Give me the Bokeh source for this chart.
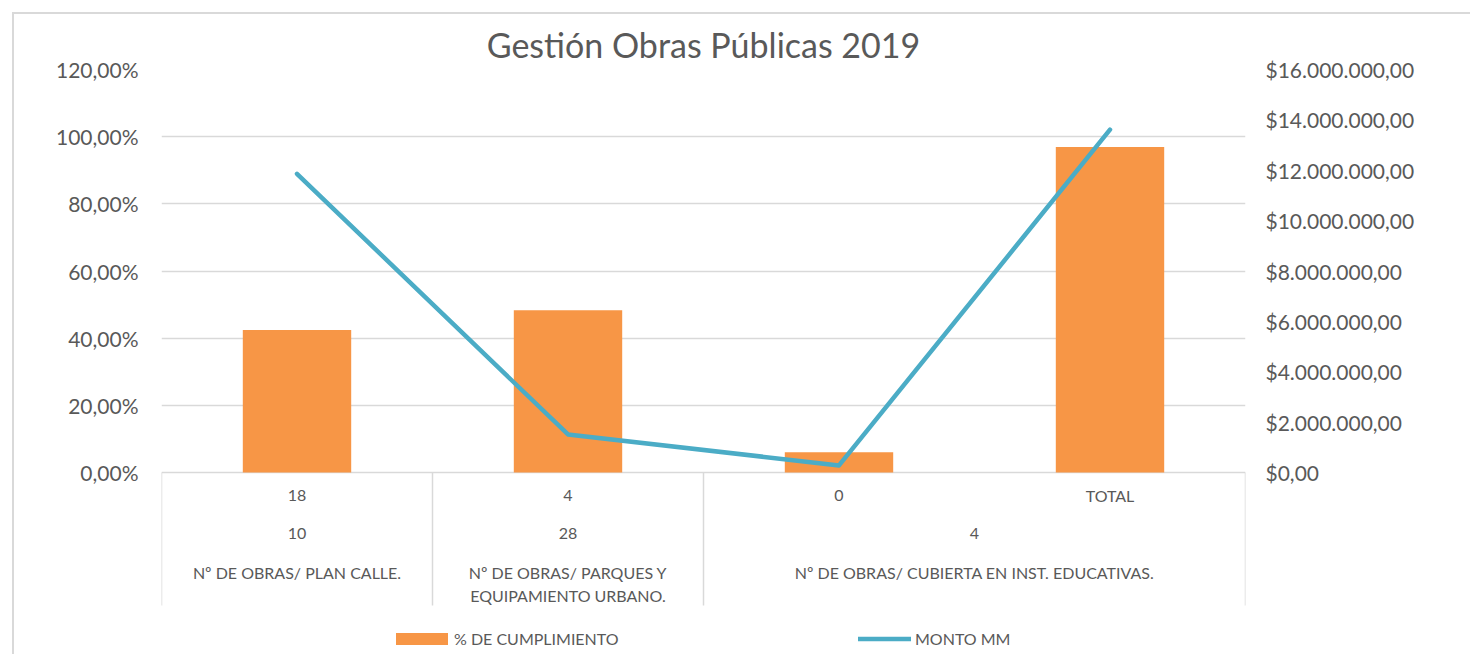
from bokeh.plotting import figure
from bokeh.models import (Range1d, LinearAxis, FixedTicker, CustomJSTickFormatter, Grid,
                          Legend, LegendItem, InlineStyleSheet)
from bokeh.core.properties import value
from bokeh.embed import file_html
from bokeh.resources import INLINE

# ---------------- data ----------------
title_text = "Gestión Obras Públicas 2019"
level1 = ["18", "4", "0", "TOTAL"]
level2 = ["10", "28", "4", "4"]
level3 = ["Nº DE OBRAS/ PLAN CALLE.",
          "Nº DE OBRAS/ PARQUES Y\nEQUIPAMIENTO URBANO.",
          "Nº DE OBRAS/ CUBIERTA EN INST. EDUCATIVAS.",
          "Nº DE OBRAS/ CUBIERTA EN INST. EDUCATIVAS."]
cumplimiento = [42.4, 48.3, 6.0, 96.9]          # % DE CUMPLIMIENTO
monto = [11860000, 1510000, 280000, 13610000]    # MONTO MM
pct_ticks = [0, 20, 40, 60, 80, 100, 120]
monto_ticks = [0, 2000000, 4000000, 6000000, 8000000, 10000000, 12000000, 14000000, 16000000]
series_names = ["% DE CUMPLIMIENTO", "MONTO MM"]

# ---------------- layout constants ----------------
W, H = 1470, 654
B_LEFT, B_RIGHT, B_TOP = 161, 225, 69
FRAME_H = H - B_TOP
PX_PER_UNIT = 403 / 120.0
Y_MIN = 120 - FRAME_H / PX_PER_UNIT
M_SCALE = 16000000 / 120.0
TABLE_BOTTOM = -133 / PX_PER_UNIT

TEXT = "#595959"
GRID = "#d9d9d9"
ORANGE = "#F79646"
TEAL = "#4BACC6"
FONT = "Lato"

n = len(level1)
xs = [i + 0.5 for i in range(n)]

p = figure(width=W, height=H, output_backend="svg", toolbar_location=None,
           x_range=Range1d(0, n), y_range=Range1d(Y_MIN, 120),
           x_axis_location=None, y_axis_location=None,
           min_border_left=B_LEFT, min_border_right=B_RIGHT,
           min_border_top=B_TOP, min_border_bottom=0,
           background_fill_color="white", border_fill_color="white")
p.outline_line_color = None
p.extra_y_ranges = {"monto": Range1d(Y_MIN * M_SCALE, 120 * M_SCALE)}
for g in p.grid:
    g.visible = False

# outer chart border (left and top edges visible in the window)
p.stylesheets = [InlineStyleSheet(css=""":host { position: relative; }
:host::after { content: ''; position: absolute; left: 12px; top: 12px; right: 0; bottom: 0;
  border-left: 2px solid #d9d9d9; border-top: 2px solid #d9d9d9; pointer-events: none; z-index: 10; }""")]

# title
p.title.text = title_text
p.title.align = "center"
p.title.text_font = FONT
p.title.text_font_size = "34px"
p.title.text_font_style = "normal"
p.title.text_color = TEXT

# axes
left_ax = LinearAxis(ticker=FixedTicker(ticks=pct_ticks),
                     formatter=CustomJSTickFormatter(code="return tick.toFixed(2).replace('.', ',') + '%';"))
right_ax = LinearAxis(y_range_name="monto", ticker=FixedTicker(ticks=monto_ticks),
                      formatter=CustomJSTickFormatter(code="""
const s = Math.round(tick).toString().replace(/\\B(?=(\\d{3})+(?!\\d))/g, '.');
return '$' + s + ',00';"""))
for ax, st in ((left_ax, 17), (right_ax, 14)):
    ax.axis_line_color = None
    ax.major_tick_line_color = None
    ax.minor_tick_line_color = None
    ax.major_label_standoff = st
    ax.major_label_text_font = FONT
    ax.major_label_text_font_size = "21px"
    ax.major_label_text_color = TEXT
p.add_layout(left_ax, "left")
p.add_layout(right_ax, "right")

# horizontal gridlines at the percentage ticks
p.add_layout(Grid(dimension=1, ticker=FixedTicker(ticks=pct_ticks),
                  grid_line_color=GRID, grid_line_width=1.5))

# category table: vertical separators where groups change
bounds = [0] + [i for i in range(1, n)
                if (level2[i], level3[i]) != (level2[i - 1], level3[i - 1])] + [n]
p.segment(x0=bounds, y0=[0] * len(bounds), x1=bounds, y1=[TABLE_BOTTOM] * len(bounds),
          line_color=GRID, line_width=1.5)

groups = []
for a, b in zip(bounds[:-1], bounds[1:]):
    groups.append(((a + b) / 2.0, level2[a], level3[a]))

tstyle = dict(text_font=value(FONT), text_font_size="16px", text_color=TEXT,
              text_align="center")
p.text(x=xs, y=[0] * n, text=level1, y_offset=23, text_baseline="middle", **tstyle)
p.text(x=[g[0] for g in groups], y=[0] * len(groups), text=[g[1] for g in groups],
       y_offset=61, text_baseline="middle", **tstyle)
p.text(x=[g[0] for g in groups], y=[0] * len(groups), text=[g[2] for g in groups],
       y_offset=90, text_baseline="top", text_line_height=1.25, **tstyle)

# series
bars = p.vbar(x=xs, top=cumplimiento, bottom=0, width=0.4,
              fill_color=ORANGE, line_color=None)
line = p.line(x=xs, y=monto, y_range_name="monto", line_color=TEAL,
              line_width=4.5, line_join="round", line_cap="round")

# legends
def mk_legend(label, r, loc, gw, gh, standoff):
    return Legend(items=[LegendItem(label=label, renderers=[r])], location=loc,
                  orientation="horizontal", glyph_width=gw, glyph_height=gh,
                  label_standoff=standoff, padding=0, margin=0, border_line_color=None,
                  background_fill_alpha=0, label_text_font=FONT,
                  label_text_font_size="16px", label_text_color=TEXT)

p.add_layout(mk_legend(series_names[0], bars, (228, 6), 65, 15, 0))
p.add_layout(mk_legend(series_names[1], line, (697, 6), 53, 15, 4))

open("out.html", "w").write(file_html(p, INLINE))
